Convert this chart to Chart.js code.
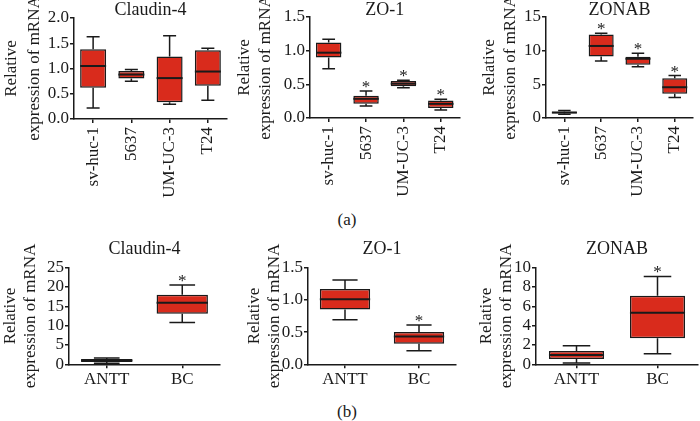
<!DOCTYPE html>
<html>
<head>
<meta charset="utf-8">
<script src="https://cdn.jsdelivr.net/npm/chart.js@4.4.0/dist/chart.umd.min.js"></script>
<style>
body { margin: 0; background: #fff; }
#wrap { position: relative; width: 700px; height: 421px; overflow: hidden; font-family: 'Liberation Serif', serif; color: #1a1a1a; }
canvas { position: absolute; }
.tag { position: absolute; width: 40px; text-align: center; font-size: 17px; line-height: 18px; }
</style>
</head>
<body>
<div id="wrap">
  <canvas id="c1" width="233" height="200" style="left:0;top:0"></canvas>
  <canvas id="c2" width="232" height="200" style="left:234px;top:0"></canvas>
  <canvas id="c3" width="221" height="200" style="left:479px;top:0"></canvas>
  <canvas id="c4" width="233" height="170" style="left:0;top:230px"></canvas>
  <canvas id="c5" width="222" height="170" style="left:244px;top:230px"></canvas>
  <canvas id="c6" width="224" height="170" style="left:476px;top:230px"></canvas>
  <div class="tag" style="left:327px;top:211px">(a)</div>
  <div class="tag" style="left:327px;top:403px">(b)</div>
</div>
<script>
const cellLines = ['sv-huc-1', '5637', 'UM-UC-3', 'T24'];
const tissues = ['ANTT', 'BC'];

// one row per box: min, q1, median, q3, max
const claudinCells = [[0.22, 0.62, 1.05, 1.38, 1.63], [0.75, 0.80, 0.88, 0.95, 0.98], [0.29, 0.33, 0.81, 1.24, 1.65], [0.37, 0.66, 0.94, 1.36, 1.40]];
const zo1Cells = [[0.73, 0.90, 0.97, 1.12, 1.17], [0.18, 0.21, 0.285, 0.33, 0.40], [0.45, 0.47, 0.51, 0.55, 0.56], [0.12, 0.15, 0.21, 0.26, 0.28]];
const zonabCells = [[0.54, 0.69, 0.80, 0.98, 1.13], [8.46, 9.15, 10.7, 12.4, 12.6], [7.6, 7.9, 8.8, 9.1, 9.6], [3.05, 3.6, 4.57, 5.9, 6.3]];
const claudinTissue = [[0.3, 0.6, 1.0, 1.4, 1.6], [10.8, 13.1, 15.9, 18.0, 20.5]];
const zo1Tissue = [[0.69, 0.85, 1.01, 1.17, 1.31], [0.21, 0.32, 0.43, 0.50, 0.61]];
const zonabTissue = [[0.14, 0.55, 0.97, 1.38, 1.93], [1.1, 2.7, 5.34, 7.1, 9.1]];

const noStars = [false, false, false, false];
const cellStars = [false, true, true, true];
const tissueStars = [false, true];

const SERIF = 'Liberation Serif';
const INK = '#1a1a1a';
const RED = '#d92b1c';

function whiskers(rows, stars) {
    return {
        id: 'whiskers',
        afterDatasetsDraw(chart) {
            const ctx = chart.ctx;
            const y = chart.scales.y;
            const bars = chart.getDatasetMeta(0).data;
            ctx.save();
            ctx.strokeStyle = INK;
            ctx.fillStyle = INK;
            bars.forEach((bar, i) => {
                const [lo, q1, med, q3, hi] = rows[i];
                const cap = bar.width * 0.25;
                const half = bar.width / 2;
                ctx.lineWidth = 1.5;
                ctx.beginPath();
                ctx.moveTo(bar.x, y.getPixelForValue(q3));
                ctx.lineTo(bar.x, y.getPixelForValue(hi));
                ctx.moveTo(bar.x - cap, y.getPixelForValue(hi));
                ctx.lineTo(bar.x + cap, y.getPixelForValue(hi));
                ctx.moveTo(bar.x, y.getPixelForValue(q1));
                ctx.lineTo(bar.x, y.getPixelForValue(lo));
                ctx.moveTo(bar.x - cap, y.getPixelForValue(lo));
                ctx.lineTo(bar.x + cap, y.getPixelForValue(lo));
                ctx.stroke();
                // median
                ctx.lineWidth = 2;
                ctx.beginPath();
                ctx.moveTo(bar.x - half, y.getPixelForValue(med));
                ctx.lineTo(bar.x + half, y.getPixelForValue(med));
                ctx.stroke();
                if (stars[i]) {
                    ctx.font = '17px ' + SERIF;
                    ctx.textAlign = 'center';
                    ctx.textBaseline = 'alphabetic';
                    ctx.fillText('*', bar.x, y.getPixelForValue(hi) + 1);
                }
            });
            ctx.restore();
        }
    };
}

function boxChart(id, title, labels, rows, stars, yMax, yStep, decimals, lay) {
    new Chart(document.getElementById(id), {
        type: 'bar',
        data: {
            labels: labels,
            datasets: [{
                data: rows.map(r => [r[1], r[3]]),
                backgroundColor: RED,
                borderColor: INK,
                borderWidth: 1.5,
                borderSkipped: false,
                barPercentage: 0.68,
                categoryPercentage: 1
            }]
        },
        options: {
            responsive: false,
            animation: false,
            devicePixelRatio: 1,
            layout: { padding: { left: 0, right: lay.right, top: lay.top, bottom: 0 } },
            plugins: {
                legend: { display: false },
                tooltip: { enabled: false },
                title: {
                    display: true,
                    fullSize: false,
                    text: title,
                    color: INK,
                    font: { family: SERIF, size: 18, weight: 'normal', lineHeight: lay.tlh + 'px' },
                    padding: { top: 0, bottom: lay.titleGap }
                }
            },
            scales: {
                x: {
                    offset: true,
                    grid: { offset: false, drawOnChartArea: false, tickLength: 4, color: INK, lineWidth: 1.5 },
                    border: { color: INK, width: 1.5 },
                    ticks: {
                        color: INK,
                        font: { family: SERIF, size: 17 },
                        maxRotation: lay.rot,
                        minRotation: lay.rot,
                        padding: lay.xpad,
                        autoSkip: false
                    },
                    afterFit: s => { s.height = lay.xh; }
                },
                y: {
                    min: 0,
                    max: yMax,
                    ticks: {
                        stepSize: yStep,
                        autoSkip: false,
                        color: INK,
                        font: { family: SERIF, size: 17 },
                        padding: 1,
                        callback: v => v.toFixed(decimals)
                    },
                    grid: { drawOnChartArea: false, tickLength: 4, color: INK, lineWidth: 1.5 },
                    border: { color: INK, width: 1.5 },
                    title: {
                        display: true,
                        text: ['Relative', 'expression of mRNA'],
                        color: INK,
                        font: { family: SERIF, size: 17, lineHeight: lay.lh },
                        padding: 0
                    },
                    afterFit: s => { s.width = lay.yw; }
                }
            }
        },
        plugins: [whiskers(rows, stars)]
    });
}

boxChart('c1', 'Claudin-4', cellLines, claudinCells, noStars, 2, 0.5, 1,
    { top: 3, tlh: 15, titleGap: 0, yw: 74, xh: 81, right: 6, rot: 90, xpad: 4, lh: 1.35 });
boxChart('c2', 'ZO-1', cellLines, zo1Cells, cellStars, 1.5, 0.5, 1,
    { top: 3, tlh: 14, titleGap: 0, yw: 76, xh: 82, right: 4, rot: 90, xpad: 4, lh: 1.25 });
boxChart('c3', 'ZONAB', cellLines, zonabCells, cellStars, 15, 5, 0,
    { top: 3, tlh: 14, titleGap: 0, yw: 67, xh: 82, right: 1, rot: 90, xpad: 4, lh: 1.25 });
boxChart('c4', 'Claudin-4', tissues, claudinTissue, tissueStars, 25, 5, 0,
    { top: 9, tlh: 20, titleGap: 8.7, yw: 69, xh: 35.7, right: 13, rot: 0, xpad: 1, lh: 1.2 });
boxChart('c5', 'ZO-1', tissues, zo1Tissue, tissueStars, 1.5, 0.5, 1,
    { top: 9, tlh: 20, titleGap: 8.7, yw: 64, xh: 35.7, right: 10, rot: 0, xpad: 1, lh: 1.2 });
boxChart('c6', 'ZONAB', tissues, zonabTissue, tissueStars, 10, 2, 0,
    { top: 9, tlh: 20, titleGap: 8.7, yw: 60, xh: 35.7, right: 2, rot: 0, xpad: 1, lh: 1.2 });
</script>
</body>
</html>
